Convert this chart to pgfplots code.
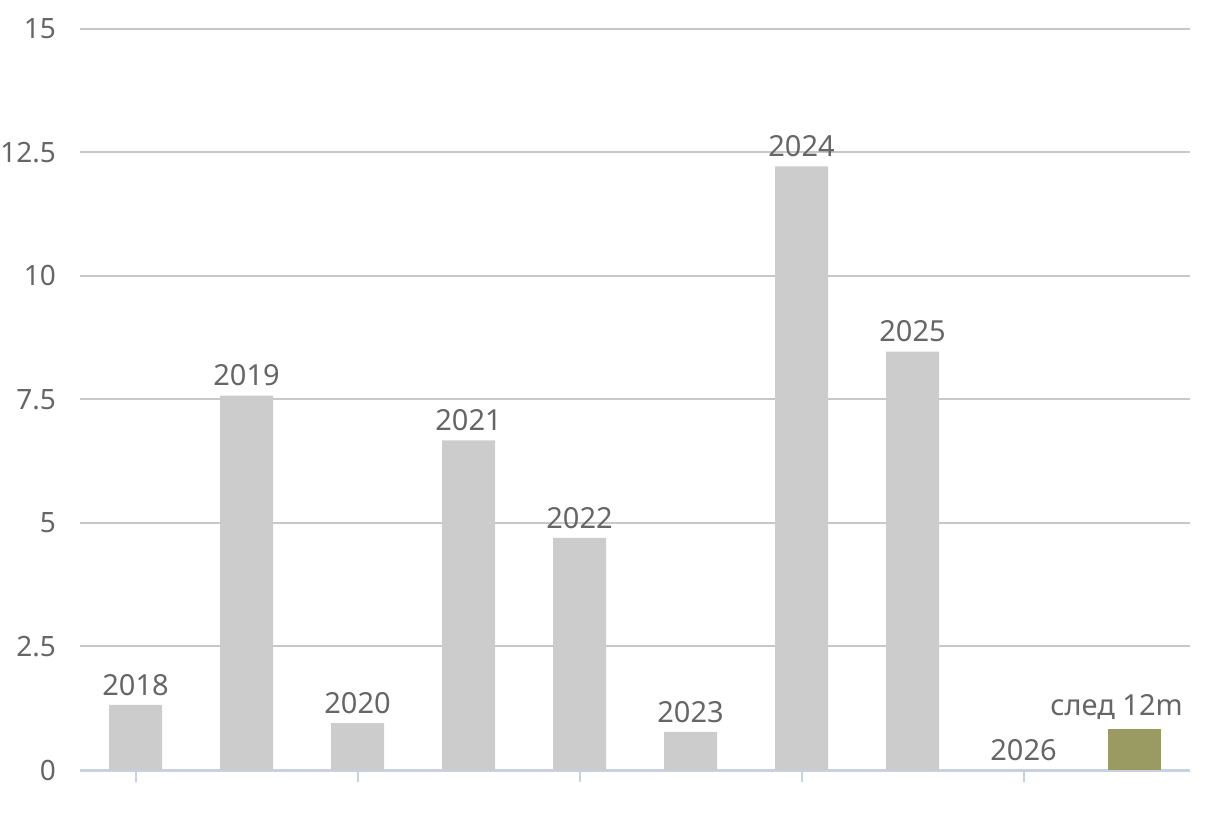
\documentclass[border=0pt]{standalone}
\usepackage{pgfplots}
\pgfplotsset{compat=1.18}
\usepackage{fontspec}
\setmainfont{Noto Sans}
\definecolor{bargray}{HTML}{CCCCCC}
\definecolor{olive}{HTML}{9A9B62}
\definecolor{txt}{HTML}{666666}
\definecolor{gridc}{HTML}{C8C8C8}
\definecolor{axc}{HTML}{C9D0DE}
\begin{document}
\begin{tikzpicture}
\begin{axis}[
  name=ax,
  scale only axis,
  width=555pt, height=370.5pt,
  xmin=-0.5, xmax=9.5,
  ymin=0, ymax=15,
  ybar, bar width=26.5pt, bar shift=0pt,
  axis x line*=bottom, axis y line*=left,
  y axis line style={draw=none},
  x axis line style={draw=axc, line width=1.5pt},
  xtick={0,2,4,6,8}, xticklabels={},
  xtick style={draw=axc, line width=1pt},
  major tick length=6pt, tick align=outside,
  ytick={0,2.5,5,7.5,10,12.5,15},
  yticklabels={0,2.5,5,7.5,10,12.5,15},
  ytick style={draw=none},
  ymajorgrids, grid style={draw=gridc, line width=1pt},
  tick label style={font=\fontsize{14}{16}\selectfont, text=txt},
  yticklabel style={xshift=-2.5pt},
  point meta=explicit symbolic,
  nodes near coords,
  every node near coord/.append style={font=\fontsize{14.5}{16}\selectfont, text=txt, inner sep=4.5pt},
  clip=false,
]
\addplot[fill=bargray, draw=none] table[meta=label] {
x y label
0 1.32 2018
1 7.58 2019
2 0.95 2020
3 6.67 2021
4 4.70 2022
5 0.77 2023
6 12.22 2024
7 8.47 2025
8 0 2026
};
\addplot[fill=olive, draw=none, every node near coord/.append style={xshift=-9pt}] table[meta=label] {
x y label
9 0.83 {след 12m}
};
\end{axis}
\pgfresetboundingbox
\path[use as bounding box] ([xshift=-40pt,yshift=-23pt]ax.south west) rectangle ([xshift=15pt,yshift=14.5pt]ax.north east);
\end{tikzpicture}
\end{document}
